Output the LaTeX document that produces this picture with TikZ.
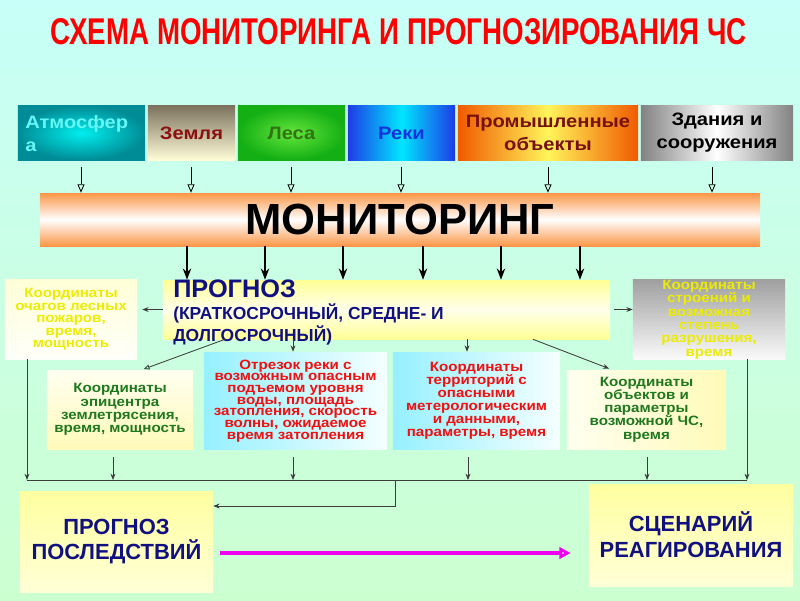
\documentclass[tikz,border=0pt]{standalone}
\usepackage{fontspec}
\setmainfont{Liberation Sans}
\newfontfamily\widefont{Liberation Sans}[FakeStretch=1.12]
\usepackage{graphicx}
\usetikzlibrary{arrows.meta}
\definecolor{bgtop}{RGB}{200,255,248}
\definecolor{bgbot}{RGB}{204,255,208}
\definecolor{atmin}{RGB}{0,238,238}
\definecolor{atmout}{RGB}{0,140,150}
\definecolor{atmtxt}{RGB}{100,245,245}
\definecolor{zemtop}{RGB}{125,115,95}
\definecolor{zembot}{RGB}{255,252,215}
\definecolor{zemtxt}{RGB}{140,16,16}
\definecolor{lesin}{RGB}{100,230,60}
\definecolor{lesout}{RGB}{20,175,20}
\definecolor{lestxt}{RGB}{50,115,20}
\definecolor{rekout}{RGB}{30,60,230}
\definecolor{rekmid}{RGB}{0,230,255}
\definecolor{rektxt}{RGB}{20,50,220}
\definecolor{promout}{RGB}{240,90,0}
\definecolor{prommid}{RGB}{255,245,90}
\definecolor{promtxt}{RGB}{120,16,16}
\definecolor{zdout}{RGB}{130,130,130}
\definecolor{monor}{RGB}{250,150,70}
\definecolor{progy}{RGB}{255,255,150}
\definecolor{progm}{RGB}{255,255,235}
\definecolor{navy}{RGB}{16,16,128}
\definecolor{ytxt}{RGB}{236,236,0}
\definecolor{gtxt}{RGB}{30,120,30}
\definecolor{rtxt}{RGB}{240,16,16}
\definecolor{cyanl}{RGB}{150,240,255}
\definecolor{cyanr}{RGB}{245,255,255}
\definecolor{paley}{RGB}{255,255,240}
\definecolor{yelb}{RGB}{255,250,185}
\definecolor{ppy}{RGB}{255,255,160}
\definecolor{ppw}{RGB}{255,255,215}
\definecolor{greyt}{RGB}{160,160,160}
\definecolor{lnc}{RGB}{60,60,60}
\definecolor{magen}{RGB}{240,0,240}
\newcommand\toplab{\widefont\bfseries\fontsize{12.8pt}{16.4pt}\selectfont}
\newcommand\smalltxt[1]{\widefont\bfseries\fontsize{9.6pt}{#1}\selectfont}
\begin{document}
\begin{tikzpicture}[x=0.025cm,y=-0.025cm,
  box/.style={inner sep=0pt, draw=none, align=center},
  tarrow/.style={black, line width=0.6pt, -{Triangle[open,width=5pt,length=6pt]}},
  marrow/.style={black, line width=1pt, -{Stealth[width=6pt,length=8pt]}},
  sarrow/.style={lnc, line width=0.6pt, -{Stealth[width=3.5pt,length=4.5pt]}},
  oarrow/.style={lnc, line width=0.6pt, -{Triangle[open,width=3.5pt,length=4pt]}},
  bline/.style={lnc, line width=0.6pt},
  parrow/.style={magen, line width=2.2pt, -{Triangle[fill=white,width=8pt,length=8pt]}}]
\useasboundingbox (0,0) rectangle (800,600);
\node[inner sep=0pt, minimum width=20cm, minimum height=15cm, top color=bgtop, bottom color=bgbot] (bg) at (400,300) {};
% title
\node[anchor=base, inner sep=0pt, text=red] (title) at (398.5,44) {\resizebox{17.4cm}{0.65cm}{\bfseries СХЕМА МОНИТОРИНГА  И  ПРОГНОЗИРОВАНИЯ  ЧС}};
% top row
\node[box, minimum width=3.175cm, minimum height=1.35cm, shading=radial, inner color=atmin, outer color=atmout] (atm) at (81.5,133) {};
\node[anchor=west, align=left, font=\toplab, text=atmtxt, inner sep=0pt] (atmt) at (25,134) {Атмосфер\\а};
\node[box, minimum width=2.175cm, minimum height=1.35cm, top color=zemtop, bottom color=zembot, font=\toplab, text=zemtxt] (zem) at (191.5,133) {Земля};
\node[box, minimum width=2.675cm, minimum height=1.35cm, shading=radial, inner color=lesin, outer color=lesout, font=\toplab, text=lestxt] (les) at (291.5,133) {Леса};
\node[box, minimum width=2.675cm, minimum height=1.35cm, left color=rekout, right color=rekout, middle color=rekmid, font=\toplab, text=rektxt] (rek) at (401.5,133) {Реки};
\node[box, minimum width=4.5cm, minimum height=1.35cm, left color=promout, right color=promout, middle color=prommid, font=\toplab, text=promtxt] (prom) at (548,133) {Промышленные\\объекты};
\node[box, minimum width=3.8cm, minimum height=1.35cm, left color=zdout, right color=zdout, middle color=white, font=\toplab, text=black] (zd) at (717,133) {Здания и\\сооружения};
% monitoring
\node[box, minimum width=18cm, minimum height=1.325cm, top color=monor, bottom color=monor, middle color=white, font=\bfseries\fontsize{31pt}{31pt}\selectfont] (mon) at (400,219.5) {МОНИТОРИНГ};
\foreach \n/\xx in {atm/81,zem/191,les/291,rek/401,prom/548,zd/712}
  \draw[tarrow, shorten <=0.175cm] (\n.south -| \xx,0) -- (mon.north -| \xx,0);
% prognoz
\node[box, minimum width=11.175cm, minimum height=1.475cm, top color=progy, bottom color=progy, middle color=progm] (prog) at (386.5,309.5) {};
\node[anchor=base west, inner sep=0pt, text=navy, font=\bfseries\fontsize{18pt}{18pt}\selectfont] (progt1) at (173,297) {ПРОГНОЗ};
\node[anchor=base west, inner sep=0pt, text=navy, font=\bfseries\fontsize{12.4pt}{12.4pt}\selectfont] (progt2) at (173,319.5) {(КРАТКОСРОЧНЫЙ, СРЕДНЕ- И};
\node[anchor=base west, inner sep=0pt, text=navy, font=\bfseries\fontsize{12.4pt}{12.4pt}\selectfont] (progt3) at (173,341.5) {ДОЛГОСРОЧНЫЙ)};
\foreach \xx in {187,265,343,423,501,580}
  \draw[marrow] (mon.south -| \xx,0) -- (prog.north -| \xx,0);
% side boxes
\node[box, minimum width=3.3cm, minimum height=1.975cm, top color={rgb,255:red,255;green,255;blue,215}, bottom color={rgb,255:red,255;green,255;blue,250}, text=ytxt, font={\smalltxt{8.9pt}}] (lb) at (71,319.5) {Координаты\\очагов лесных\\пожаров,\\время,\\мощность};
\node[box, minimum width=3.8cm, minimum height=1.975cm, top color=greyt, bottom color={rgb,255:red,250;green,250;blue,250}, text=ytxt, font={\smalltxt{9.5pt}}] (rb) at (709,319.5) {Координаты\\строений и\\возможная\\степень\\разрушения,\\время};
\draw[sarrow, shorten >=0.125cm] (prog.west) -- (prog.west -| lb.east);
\draw[sarrow, shorten <=0.1cm] (prog.east) -- (prog.east -| rb.west);
% middle boxes
\node[box, minimum width=3.65cm, minimum height=1.975cm, top color=paley, bottom color=yelb, text=gtxt, font={\smalltxt{9.5pt}}] (A) at (120,409.5) {Координаты\\эпицентра\\землетрясения,\\время, мощность};
\node[box, minimum width=4.575cm, minimum height=2.4cm, left color=cyanl, right color=cyanr, text=rtxt, font={\smalltxt{8.3pt}}] (B) at (295.5,401) {Отрезок реки с\\возможным опасным\\подъемом уровня\\воды, площадь\\затопления, скорость\\волны, ожидаемое\\время затопления};
\node[box, minimum width=4.175cm, minimum height=2.4cm, left color=cyanl, right color=cyanr, text=rtxt, font={\smalltxt{9.2pt}}] (C) at (476.5,401) {Координаты\\территорий с\\опасными\\метерологическим\\и данными,\\параметры, время};
\node[box, minimum width=3.975cm, minimum height=1.975cm, left color=paley, right color=yelb, text=gtxt, font={\smalltxt{9.4pt}}] (D) at (646.5,409.5) {Координаты\\объектов и\\параметры\\возможной ЧС,\\время};
\draw[oarrow, shorten >=0.05cm] (prog.south -| 225,0) -- (A.north -| 142,0);
\draw[sarrow, shorten >=0.025cm] (prog.south -| 293,0) -- (B.north -| 293,0);
\draw[sarrow, shorten >=0.025cm] (prog.south -| 467,0) -- (C.north -| 467,0);
\draw[sarrow, shorten >=0.075cm] (prog.south -| 533,0) -- (D.north -| 612,0);
% bottom collector
\coordinate (hl) at (27,480);
\coordinate (hr) at (747,480);
\coordinate (hm) at (395,480);
\draw[bline] (hl) -- (hr);
\draw[sarrow] (lb.south -| hl) -- (hl);
\draw[sarrow] (rb.south -| hr) -- (hr);
\foreach \n/\xx in {A/113,B/293,C/468,D/647}
  \draw[sarrow, shorten <=0.2cm] (\n.south -| \xx,0) -- (hl -| \xx,0);
% bottom boxes
\node[box, minimum width=4.825cm, minimum height=2.525cm, top color=ppy, bottom color=ppw, text=navy, font=\bfseries\fontsize{15.6pt}{17.8pt}\selectfont] (pp) at (116.5,541.5) {ПРОГНОЗ\\ПОСЛЕДСТВИЙ};
\node[box, minimum width=5.1cm, minimum height=2.55cm, top color=ppy, bottom color=ppw, text=navy, font=\bfseries\fontsize{15.6pt}{18.5pt}\selectfont] (sc) at (691,535) {СЦЕНАРИЙ\\РЕАГИРОВАНИЯ};
\draw[sarrow] (hm) |- (pp.east |- 0,506);
\draw[parrow, shorten <=0.175cm, shorten >=0.45cm] (pp.east |- 0,553) -- (sc.west |- 0,553);
\end{tikzpicture}
\end{document}
